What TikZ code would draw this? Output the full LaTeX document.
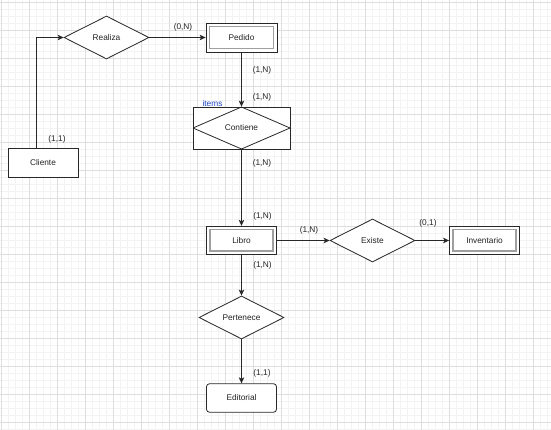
\documentclass[tikz,border=0pt]{standalone}
\usepackage{fontspec}
\setmainfont{Liberation Sans}
\usetikzlibrary{shapes.geometric,arrows.meta}
\definecolor{gmajor}{RGB}{222,222,222}
\definecolor{gminor}{RGB}{243,243,243}
\definecolor{edgec}{RGB}{40,40,40}
\definecolor{txt}{RGB}{35,35,35}
\definecolor{itemsblue}{RGB}{30,70,200}
\begin{document}
\begin{tikzpicture}[x=1pt,y=-1pt,
  font=\fontsize{8.3}{10}\selectfont,
  ent/.style={draw=edgec, line width=0.8pt, minimum width=70pt, minimum height=28.5pt, inner sep=0pt, text=txt, fill=white},
  weak/.style={ent, path picture={\draw[gray!75, line width=1.5pt] ([shift={(3.5pt,3.5pt)}]path picture bounding box.south west) rectangle ([shift={(-3.5pt,-3.5pt)}]path picture bounding box.north east);}},
  rel/.style={diamond, aspect=2, draw=edgec, line width=0.8pt, minimum width=85pt, minimum height=43pt, inner sep=0pt, text=txt, fill=white},
  lbl/.style={text=txt, inner sep=0pt},
  arr/.style={draw=edgec, line width=0.8pt, -{Stealth[length=6pt,width=5.5pt,inset=1.5pt]}}
]
\useasboundingbox (0,0) rectangle (551,430);
\fill[white] (0,0) rectangle (551,430);
% grid
\foreach \x in {1,8,...,551} \draw[gminor, line width=0.5pt] (\x,0) -- (\x,430);
\foreach \y in {2,9,...,430} \draw[gminor, line width=0.5pt] (0,\y) -- (551,\y);
\foreach \x in {1,29,...,551} \draw[gmajor, line width=0.8pt] (\x,0) -- (\x,430);
\foreach \y in {2,30,...,430} \draw[gmajor, line width=0.8pt] (0,\y) -- (551,\y);

% nodes
\node[ent] (cliente) at (43,163) {Cliente};
\node[rel] (realiza) at (106.5,37.5) {Realiza};
\node[weak, minimum width=71pt, minimum height=29pt] (pedido) at (241.5,37.5) {Pedido};
\node[draw=edgec, line width=0.8pt, fill=white, minimum width=97pt, minimum height=42pt, inner sep=0pt, text=txt,
  path picture={\draw[edgec, line width=0.8pt] (path picture bounding box.north) -- (path picture bounding box.east) -- (path picture bounding box.south) -- (path picture bounding box.west) -- cycle;}]
  (contiene) at (241.5,128) {Contiene};
\node[text=itemsblue, inner sep=0pt] (items) at (212.5,104) {items};
\node[weak] (libro) at (241.5,240.5) {Libro};
\node[rel] (existe) at (372.5,240.5) {Existe};
\node[weak] (inventario) at (484.5,240.5) {Inventario};
\node[rel] (pertenece) at (241.5,317.5) {Pertenece};
\node[ent, rounded corners=3pt] (editorial) at (241.5,398) {Editorial};

% connectors
\draw[arr] ([xshift=-7pt]cliente.north) |- (realiza.west);
\draw[arr] (realiza.east) -- (pedido.west);
\draw[arr] (pedido.south) -- (contiene.north);
\draw[arr] (contiene.south) -- (libro.north);
\draw[arr] (libro.east) -- (existe.west);
\draw[arr] (existe.east) -- (inventario.west);
\draw[arr] (libro.south) -- (pertenece.north);
\draw[arr] (pertenece.south) -- (editorial.north);

% cardinalities
\node[lbl] (c1) at (57,139) {(1,1)};
\node[lbl] (c2) at (183,27) {(0,N)};
\node[lbl] (c3) at (262,70) {(1,N)};
\node[lbl] (c4) at (262,97) {(1,N)};
\node[lbl] (c5) at (262,163) {(1,N)};
\node[lbl] (c6) at (262.5,216) {(1,N)};
\node[lbl] (c7) at (262.5,265.5) {(1,N)};
\node[lbl] (c8) at (309,230) {(1,N)};
\node[lbl] (c9) at (428,223) {(0,1)};
\node[lbl] (c10) at (262,373.5) {(1,1)};
\end{tikzpicture}
\end{document}
